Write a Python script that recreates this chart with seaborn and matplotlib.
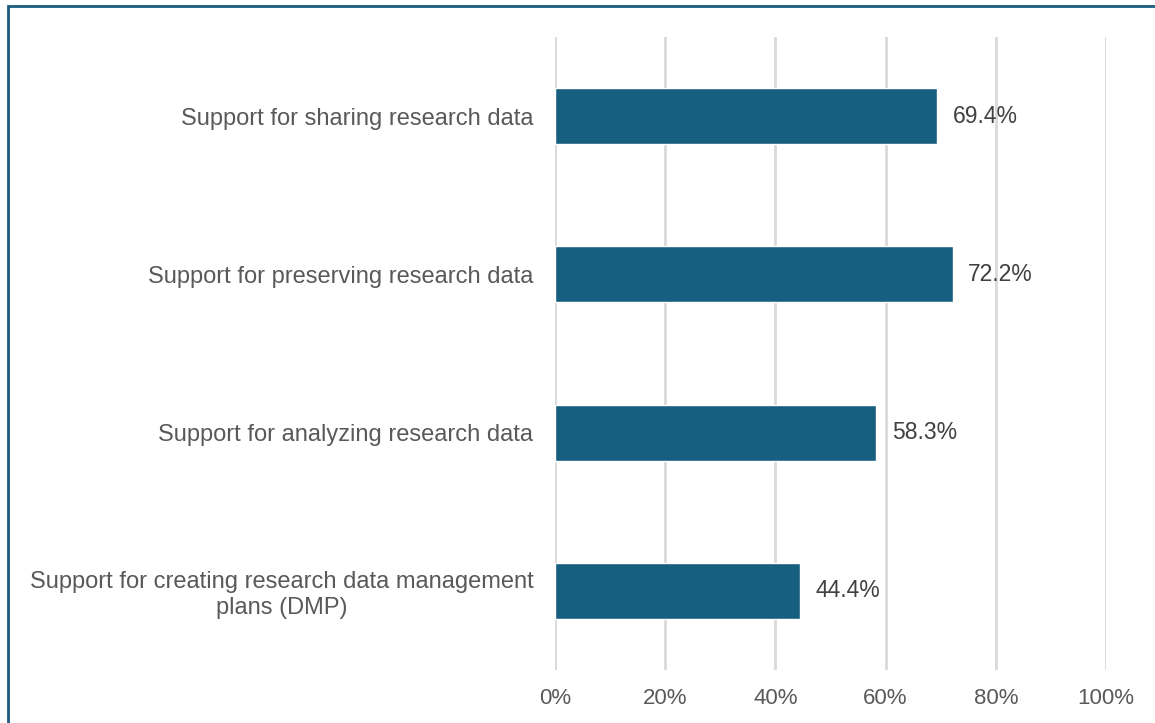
import matplotlib
matplotlib.use('Agg')
from matplotlib import pyplot as plt
from matplotlib.patches import Rectangle
import pandas as pd
import seaborn as sns

# ----------------- data
categories = ['Support for sharing research data',
              'Support for preserving research data',
              'Support for analyzing research data',
              'Support for creating research data management\nplans (DMP)']
values = [69.4, 72.2, 58.3, 44.4]
xticks = [0, 20, 40, 60, 80, 100]

df = pd.DataFrame({'category': categories, 'value': values})

sns.set_style("white")
plt.rcParams['font.family'] = ['Liberation Sans', 'DejaVu Sans']

bar_color = '#175F80'
text_color = '#595959'

f = plt.figure(figsize=(11.55, 7.23), dpi=100)
ax = f.add_axes([555 / 1155, 1 - 670 / 723, 551 / 1155, 633 / 723])

sns.barplot(data=df, x='value', y='category', orient='h', color=bar_color,
            width=0.355, saturation=1, ax=ax, zorder=3)

ax.set_xlim(0, 100)
ax.set_ylim(3.5, -0.5)
ax.set_xticks(xticks)
ax.set_xticklabels([f'{t}%' for t in xticks], fontsize=16, color=text_color)
ax.tick_params(axis='x', length=0, pad=13)
ax.tick_params(axis='y', length=0, pad=15.5, labelsize=17, labelcolor=text_color)
for lbl in ax.get_yticklabels():
    lbl.set_multialignment('center')
ax.set_xlabel('')
ax.set_ylabel('')
ax.xaxis.grid(True, color='#D9D9D9', linewidth=2, zorder=0)
for s in ax.spines.values():
    s.set_visible(False)

for i, v in enumerate(values):
    ax.text(v + 2.8, i, f'{v}%', va='center', ha='left', fontsize=16.5, color='#404040')

# frame around the figure (only top and left visible)
f.patches.append(Rectangle((8 / 1155, -0.2), 1.2, 1.2 - 6 / 723,
                           transform=f.transFigure, fill=False,
                           edgecolor='#1A5C7E', linewidth=2, figure=f))

f.savefig('out.png', dpi=100)
